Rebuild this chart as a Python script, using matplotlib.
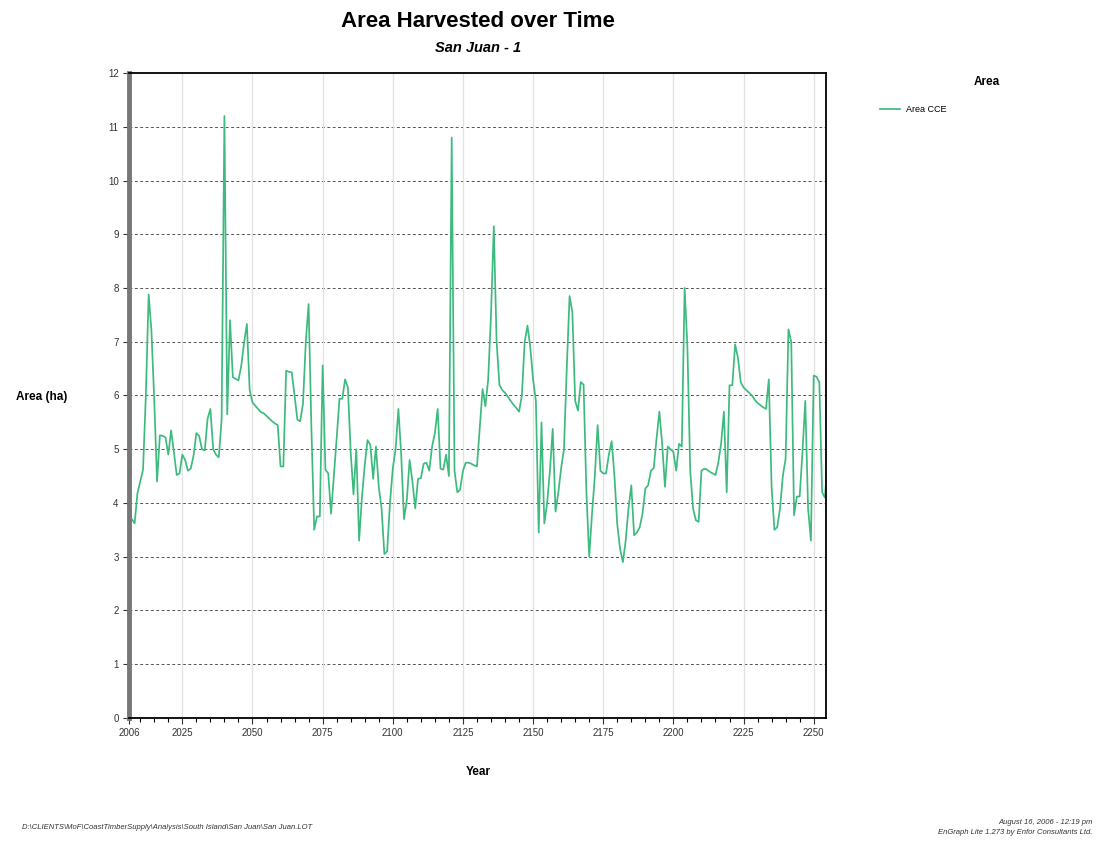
import matplotlib
matplotlib.use("Agg")
import matplotlib.pyplot as plt
from matplotlib.ticker import MultipleLocator

plt.rcParams["font.family"] = ["Liberation Sans", "DejaVu Sans"]

# annual area harvested (ha), 2006..2255
years = list(range(2006, 2256))
area = [
    # 2006-2015
    3.64, 3.70, 3.62, 4.18, 4.40, 4.62, 6.00, 7.88, 7.20, 5.90,
    # 2016-2025
    4.40, 5.26, 5.25, 5.22, 4.90, 5.35, 4.95, 4.52, 4.55, 4.90,
    # 2026-2035
    4.80, 4.60, 4.64, 4.88, 5.30, 5.25, 5.00, 4.98, 5.57, 5.75,
    # 2036-2045
    5.00, 4.90, 4.85, 5.55, 11.20, 5.65, 7.40, 6.34, 6.31, 6.28,
    # 2046-2055
    6.55, 6.98, 7.33, 6.10, 5.87, 5.81, 5.75, 5.69, 5.67, 5.62,
    # 2056-2065
    5.57, 5.52, 5.48, 5.45, 4.68, 4.68, 6.46, 6.44, 6.43, 6.00,
    # 2066-2075
    5.55, 5.52, 5.85, 7.00, 7.70, 5.40, 3.50, 3.75, 3.75, 6.56,
    # 2076-2085
    4.62, 4.55, 3.80, 4.50, 5.20, 5.94, 5.94, 6.30, 6.15, 4.95,
    # 2086-2095
    4.16, 5.00, 3.30, 4.10, 4.70, 5.17, 5.08, 4.45, 5.05, 4.30,
    # 2096-2105
    3.90, 3.05, 3.10, 4.00, 4.64, 5.00, 5.75, 4.90, 3.70, 4.05,
    # 2106-2115
    4.80, 4.40, 3.90, 4.45, 4.46, 4.73, 4.75, 4.60, 5.05, 5.30,
    # 2116-2125
    5.75, 4.64, 4.62, 4.90, 4.50, 10.80, 4.60, 4.20, 4.25, 4.60,
    # 2126-2135
    4.75, 4.75, 4.73, 4.70, 4.68, 5.40, 6.12, 5.80, 6.30, 7.50,
    # 2136-2145
    9.15, 7.00, 6.20, 6.10, 6.05, 5.98, 5.90, 5.83, 5.77, 5.70,
    # 2146-2155
    6.00, 7.00, 7.30, 6.90, 6.30, 5.90, 3.45, 5.50, 3.62, 4.00,
    # 2156-2165
    4.60, 5.38, 3.84, 4.20, 4.65, 5.00, 6.50, 7.85, 7.55, 5.90,
    # 2166-2175
    5.72, 6.25, 6.20, 4.20, 3.00, 3.80, 4.50, 5.45, 4.60, 4.55,
    # 2176-2185
    4.55, 4.90, 5.15, 4.50, 3.60, 3.15, 2.90, 3.30, 3.90, 4.33,
    # 2186-2195
    3.40, 3.45, 3.55, 3.80, 4.27, 4.33, 4.60, 4.65, 5.20, 5.70,
    # 2196-2205
    5.10, 4.30, 5.05, 5.00, 4.95, 4.60, 5.10, 5.05, 8.00, 6.90,
    # 2206-2215
    4.60, 3.90, 3.68, 3.65, 4.60, 4.64, 4.62, 4.58, 4.55, 4.52,
    # 2216-2225
    4.75, 5.10, 5.70, 4.20, 6.19, 6.19, 6.95, 6.70, 6.25, 6.15,
    # 2226-2235
    6.10, 6.05, 6.00, 5.92, 5.86, 5.82, 5.78, 5.75, 6.30, 4.30,
    # 2236-2245
    3.50, 3.55, 3.90, 4.50, 4.83, 7.23, 7.00, 3.77, 4.12, 4.12,
    # 2246-2255
    4.95, 5.90, 3.90, 3.30, 6.37, 6.35, 6.25, 4.20, 4.10, 4.83,
]

year_ticks = [2006, 2025, 2050, 2075, 2100, 2125, 2150, 2175, 2200, 2225, 2250]
area_ticks = list(range(0, 13))

line_color = "#3dbb7f"
footer_path = r"D:\CLIENTS\MoF\CoastTimberSupply\Analysis\South Island\San Juan\San Juan.LOT"

fig = plt.figure(figsize=(10.97, 8.44), dpi=100)
ax = fig.add_axes([0.1176, 0.1493, 0.6354, 0.7642])

ax.plot(years, area, color=line_color, linewidth=1.25, label="Area CCE")

ax.set_xlim(2006, 2254.4)
ax.set_ylim(0, 12)
ax.set_xticks(year_ticks)
ax.xaxis.set_minor_locator(MultipleLocator(5))
ax.set_yticks(area_ticks)

ax.tick_params(axis="both", which="major", labelsize=7, colors="#333333",
               length=4, width=0.8, direction="out")
ax.tick_params(axis="x", which="minor", length=3, width=0.8)

# grids: dashed horizontal, faint vertical
for v in area_ticks[1:-1]:
    ax.axhline(v, color="#555555", linewidth=0.7, linestyle=(0, (3, 2.5)), zorder=0)
for yr in year_ticks[1:]:
    ax.axvline(yr, color="#e2e2e2", linewidth=0.9, zorder=0)

for side in ("top", "right", "bottom"):
    ax.spines[side].set_color("black")
    ax.spines[side].set_linewidth(1.3)
ax.spines["left"].set_color("#777777")
ax.spines["left"].set_linewidth(3.5)

fig.text(0.436, 0.974, "Area Harvested over Time", ha="center", va="center",
         fontsize=16, fontweight="bold")
fig.text(0.436, 0.943, "San Juan - 1", ha="center", va="center",
         fontsize=10.5, fontweight="bold", style="italic")

fig.text(0.038, 0.530, "Area (ha)", ha="center", va="center",
         fontsize=8.5, fontweight="bold")
fig.text(0.436, 0.085, "Year", ha="center", va="center",
         fontsize=8.5, fontweight="bold")

# legend: title sits apart, to the right of the entry
fig.text(0.900, 0.903, "Area", ha="center", va="center",
         fontsize=8.5, fontweight="bold")
fig.legend(loc="center left", bbox_to_anchor=(0.795, 0.870), frameon=False,
           fontsize=6.5, handlelength=2.2, handletextpad=0.6)

fig.text(0.02, 0.020, footer_path, ha="left", va="center",
         fontsize=5.5, style="italic", color="#333333")
fig.text(0.996, 0.025, "August 16, 2006 - 12:19 pm", ha="right", va="center",
         fontsize=5.5, style="italic", color="#333333")
fig.text(0.996, 0.014, "EnGraph Lite 1.273 by Enfor Consultants Ltd.", ha="right",
         va="center", fontsize=5.5, style="italic", color="#333333")

fig.savefig("out.png", dpi=100)
